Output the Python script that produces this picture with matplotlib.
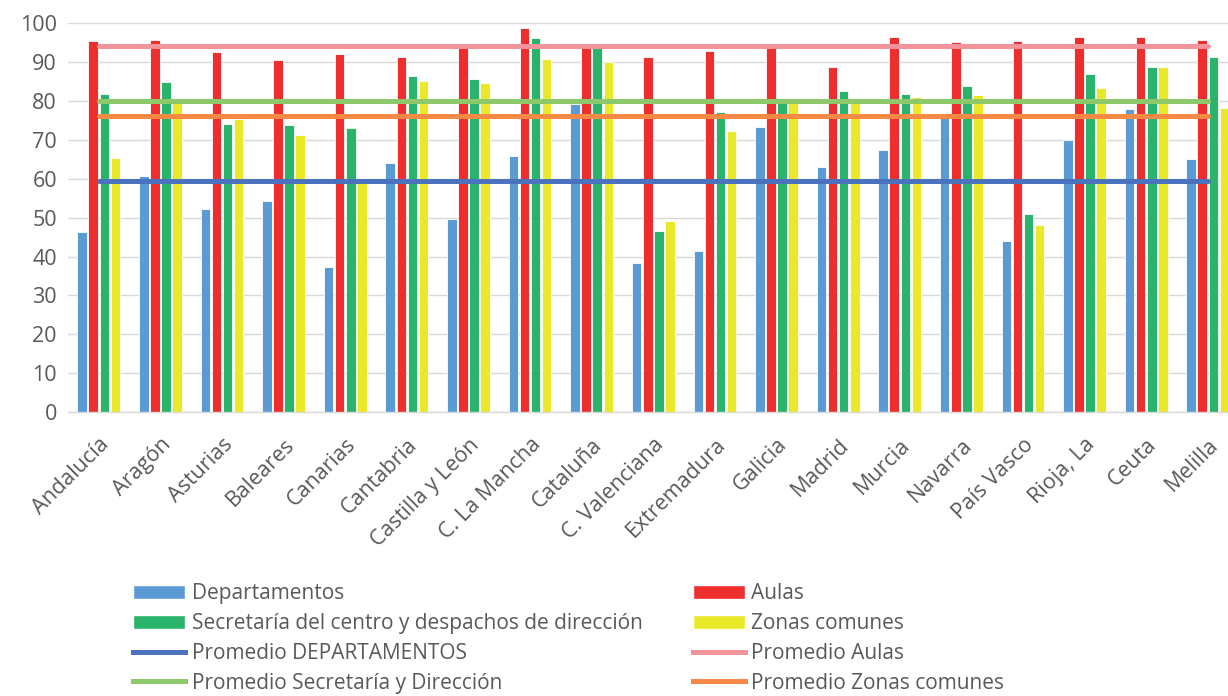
import numpy as np
import matplotlib.pyplot as plt
from matplotlib.patches import Patch
from matplotlib.lines import Line2D

# ---------------------------------------------------------------
# Data
# ---------------------------------------------------------------
regions = ['Andalucía', 'Aragón', 'Asturias', 'Baleares', 'Canarias',
           'Cantabria', 'Castilla y León', 'C. La Mancha', 'Cataluña',
           'C. Valenciana', 'Extremadura', 'Galicia', 'Madrid', 'Murcia',
           'Navarra', 'País Vasco', 'Rioja, La', 'Ceuta', 'Melilla']

departamentos = [46.2, 60.8, 52.2, 54.2, 37.3, 64.1, 49.6, 65.8, 79.2, 38.3,
                 41.3, 73.3, 63.1, 67.3, 76.9, 43.9, 70.1, 78.0, 65.0]
aulas = [95.4, 95.8, 92.5, 90.5, 92.2, 91.4, 94.0, 98.7, 94.0, 91.4,
         92.8, 94.0, 88.8, 96.4, 95.1, 95.4, 96.4, 96.4, 95.8]
secretaria = [81.9, 84.9, 74.0, 73.8, 73.0, 86.5, 85.6, 96.1, 94.0, 46.6,
              77.3, 79.6, 82.6, 81.9, 83.9, 50.9, 86.9, 88.8, 91.4]
zonas = [65.4, 79.6, 75.5, 71.3, 59.0, 85.2, 84.6, 90.8, 90.0, 49.2,
         72.3, 79.5, 79.5, 81.0, 81.6, 48.2, 83.3, 88.8, 78.3]

prom_departamentos = 59.4
prom_aulas = 94.2
prom_secretaria = 79.9
prom_zonas = 76.1

bar_labels = ['Departamentos', 'Aulas',
              'Secretaría del centro y despachos de dirección', 'Zonas comunes']
bar_colors = ['#5B9BD5', '#EE2E2C', '#2AB36B', '#EBE82A']
avg_labels = ['Promedio DEPARTAMENTOS', 'Promedio Aulas',
              'Promedio Secretaría y Dirección', 'Promedio Zonas comunes']
avg_colors = ['#4A72BD', '#F3939A', '#8DC96B', '#F68A45']

# ---------------------------------------------------------------
# Plot
# ---------------------------------------------------------------
plt.rcParams['font.family'] = ['Open Sans', 'DejaVu Sans']
text_color = '#595959'

fig = plt.figure(figsize=(12.28, 6.96), dpi=100)
ax = fig.add_axes([68 / 1228, 1 - 412 / 696, 1 - 68 / 1228, (412 - 23.3) / 696])

x = np.arange(len(regions))
offsets = [-0.27, -0.09, 0.09, 0.27]
width = 0.155
series = [departamentos, aulas, secretaria, zonas]
for vals, off, col in zip(series, offsets, bar_colors):
    ax.bar(x + off, vals, width=width, color=col, edgecolor='white',
           linewidth=0.6, zorder=2)

avgs = [prom_departamentos, prom_aulas, prom_secretaria, prom_zonas]
for val, col in zip(avgs, avg_colors):
    ax.plot(x, np.full(len(x), val), color=col, linewidth=3.6, zorder=3,
            solid_capstyle='round')

ax.set_ylim(0, 100)
ax.set_xlim(-0.5, (1228 - 99) / 61.6)
ax.set_yticks(np.arange(0, 101, 10))
ax.yaxis.grid(True, color='#D9D9D9', linewidth=1.0, zorder=0)
ax.set_axisbelow(True)
for s in ['top', 'right', 'left']:
    ax.spines[s].set_visible(False)
ax.spines['bottom'].set_color('#D9D9D9')
ax.spines['bottom'].set_linewidth(1.0)
ax.tick_params(axis='both', length=0, labelsize=15.5, labelcolor=text_color)
ax.tick_params(axis='y', pad=8)
ax.tick_params(axis='x', pad=16)
ax.set_xticks(x)
ax.set_xticklabels(regions, rotation=45, ha='right', rotation_mode='anchor')

# legend: row-major order in the reference -> reorder for column filling
handles = {}
for lab, col in zip(bar_labels, bar_colors):
    handles[lab] = Patch(facecolor=col, edgecolor='white')
for lab, col in zip(avg_labels, avg_colors):
    handles[lab] = Line2D([0], [0], color=col, linewidth=3.6)
order = [bar_labels[0], bar_labels[2], avg_labels[0], avg_labels[2],
         bar_labels[1], bar_labels[3], avg_labels[1], avg_labels[3]]
leg = fig.legend([handles[k] for k in order], order, ncol=2,
                 loc='upper left', bbox_to_anchor=(125 / 1228, 1 - 575 / 696),
                 frameon=False, fontsize=15, handlelength=2.5,
                 handleheight=0.7, handletextpad=0.3, columnspacing=2.4,
                 labelspacing=0.42, borderaxespad=0)
for t in leg.get_texts():
    t.set_color(text_color)

fig.savefig('out.png', dpi=100)
